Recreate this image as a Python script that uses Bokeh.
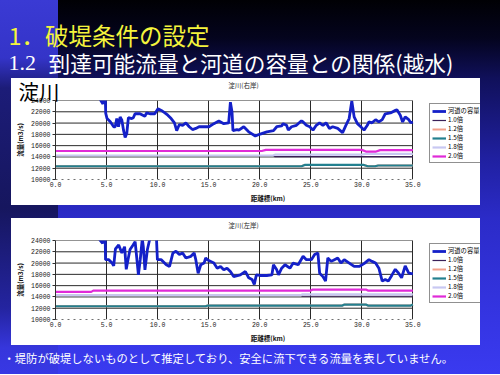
from bokeh.plotting import figure
from bokeh.layouts import column
from bokeh.models import Label, Legend, LegendItem, FixedTicker, PrintfTickFormatter, Range1d
from bokeh.embed import file_html
from bokeh.resources import INLINE

# ---------------- data ----------------
DIST_TICKS = [0, 5, 10, 15, 20, 25, 30, 35]
FLOW_TICKS = [10000, 12000, 14000, 16000, 18000, 20000, 22000, 24000]

SERIES_NAMES = ["河道の容量", "1.0倍", "1.2倍", "1.5倍", "1.8倍", "2.0倍"]

# 淀川(右岸) river channel capacity
R_X = [4.30, 4.65, 4.72, 4.86, 4.92, 5.05, 5.37, 5.70, 5.85, 6.00,
       6.17, 6.33, 6.50, 6.66, 6.82, 6.98, 7.14, 7.46, 7.62, 7.79,
       8.27, 8.75, 8.92, 9.24, 9.72, 10.04, 10.36, 10.68, 11.00, 11.33,
       11.65, 11.87, 12.13, 12.45, 12.77, 13.10, 13.42, 13.74, 14.06, 14.55,
       15.03, 15.51, 16.00, 16.48, 16.96, 17.13, 17.29, 17.38, 17.77, 17.96,
       18.44, 18.92, 19.57, 20.05, 20.70, 21.35, 21.67, 22.15, 22.30, 22.63,
       22.80, 23.12, 23.60, 24.09, 24.25, 24.57, 24.90, 25.22, 25.54, 25.86,
       26.19, 26.50, 26.83, 27.15, 27.64, 28.12, 28.44, 28.76, 29.02, 29.25,
       29.57, 29.90, 30.22, 30.54, 30.70, 31.00, 31.35, 31.67, 32.00, 32.30,
       32.80, 33.30, 33.44, 33.77, 34.00, 34.25, 34.60, 34.80, 35.00]
R_CAP = [24400, 23400, 25500, 25500, 21700, 20800, 20250, 19350, 19350, 20800,
         19350, 21100, 20500, 18750, 17450, 18150, 20950, 20800, 20950, 21650,
         21650, 21200, 21800, 21650, 21650, 22550, 22250, 21850, 21400, 20800,
         20050, 18650, 19750, 19600, 20050, 19350, 18850, 19050, 19350, 19350,
         19350, 19900, 20350, 19900, 20050, 23700, 21950, 18650, 18850, 18750,
         19350, 18450, 17700, 18050, 18450, 18650, 19350, 19500, 19900, 19600,
         18750, 19350, 19600, 20400, 20200, 19600, 19350, 18750, 19600, 20050,
         19600, 20050, 19050, 19350, 19050, 18300, 19600, 20800, 23900, 21100,
         19900, 19350, 18750, 19600, 20200, 20050, 20600, 20200, 20600, 21650,
         21800, 22250, 22350, 21400, 20200, 21100, 20600, 20050, 20200]

# 淀川(右岸) attainable discharge for each rainfall multiple
R_X_10 = [0, 21.3, 21.5, 35]
R_V_10 = [14250, 14250, 14050, 14050]
R_X_12 = [0, 24.1, 24.4, 30.2, 30.6, 31.3, 31.6, 35]
R_V_12 = [12350, 12350, 12580, 12580, 12350, 12350, 12480, 12480]
R_X_15 = [0, 24.1, 24.4, 30.2, 30.6, 31.3, 31.6, 35]
R_V_15 = [12350, 12350, 12580, 12580, 12350, 12350, 12480, 12480]
R_X_18 = [0, 21.3, 21.5, 30.0, 30.4, 35]
R_V_18 = [14250, 14250, 14400, 14400, 14550, 14550]
R_X_20 = [0, 20.2, 20.6, 30.0, 30.4, 31.4, 31.8, 35]
R_V_20 = [15050, 15050, 15250, 15250, 14950, 14950, 15200, 15200]

# 淀川(左岸) river channel capacity
L_X = [4.30, 4.62, 4.74, 4.86, 4.90, 5.22, 5.54, 5.70, 5.87, 6.19,
       6.50, 6.77, 6.93, 7.10, 7.30, 7.60, 7.80, 7.96, 8.12, 8.30,
       8.50, 8.60, 8.76, 9.00, 9.20, 9.30, 9.85, 9.98, 10.36, 10.85,
       11.17, 11.50, 11.80, 12.13, 12.45, 12.77, 13.26, 13.58, 13.74, 13.97,
       14.23, 14.55, 14.71, 14.87, 15.20, 15.51, 15.84, 16.16, 16.48, 16.80,
       17.13, 17.45, 18.10, 18.60, 18.92, 19.25, 19.47, 19.67, 20.05, 20.70,
       21.19, 21.35, 21.67, 21.84, 22.15, 22.48, 22.96, 23.28, 23.77, 24.25,
       24.57, 25.06, 25.38, 25.70, 25.87, 26.19, 26.45, 26.67, 27.00, 27.32,
       27.64, 27.96, 28.28, 28.77, 29.25, 29.74, 30.22, 30.70, 31.00, 31.35,
       31.67, 32.00, 32.30, 32.60, 32.96, 33.28, 33.60, 33.90, 34.25, 34.60,
       35.00]
L_CAP = [24200, 23500, 25500, 25500, 20600, 20600, 20000, 19500, 22500, 23200,
         21800, 22900, 18900, 20600, 22400, 23200, 23800, 20900, 17900, 20600,
         24300, 22900, 18800, 22400, 24000, 26000, 26000, 20600, 20600, 19700,
         19400, 21800, 22100, 21500, 21800, 20900, 21200, 21800, 20600, 18200,
         19700, 20000, 20900, 20600, 20300, 20000, 19100, 19400, 18800, 19100,
         18500, 17600, 17900, 18500, 17400, 17100, 16200, 17900, 17800, 17800,
         17900, 19700, 18800, 17900, 19100, 19700, 19100, 20000, 19700, 21200,
         20600, 20600, 21500, 21800, 18200, 17600, 16800, 20900, 20300, 20600,
         20900, 20000, 20600, 20000, 19400, 19400, 19900, 20600, 20300, 20000,
         19100, 16800, 17100, 16800, 17900, 18900, 18200, 17400, 19500, 18200,
         18100]

L_X_10 = [0, 24.0, 24.2, 35]
L_V_10 = [14300, 14300, 14120, 14120]
L_X_12 = [0, 14.7, 14.9, 28.1, 28.3, 30.4, 30.6, 34.8, 35]
L_V_12 = [12350, 12350, 12470, 12470, 12650, 12650, 12470, 12470, 12650]
L_X_15 = [0, 14.7, 14.9, 28.1, 28.3, 30.4, 30.6, 34.8, 35]
L_V_15 = [12350, 12350, 12470, 12470, 12650, 12650, 12470, 12470, 12650]
L_X_18 = [0, 24.0, 24.2, 35]
L_V_18 = [14300, 14300, 14450, 14450]
L_X_20 = [0, 3.5, 3.7, 25.0, 25.2, 30.4, 30.6, 35]
L_V_20 = [14900, 14900, 15120, 15120, 15300, 15300, 15120, 15120]

# ---------------- styling ----------------
JP = "Noto Sans CJK JP"
MONO = "Liberation Mono"
COLORS = ["#1420c8", "#3a2058", "#f2a08a", "#23808f", "#c8c8f2", "#e02ad8"]
WIDTHS = [2.8, 1.2, 2.0, 2.2, 2.2, 2.2]
PANEL_MARGIN = (0, 20, 0, 11)
WHITE = {"background": "white"}
CHART_W, CHART_H = 469, 109
BORDER_L, BORDER_T, BORDER_B = 38, 4, 25
PLOT_PX = 362.4                      # pixel width of the 0-35 km plot area
FRAME_W = CHART_W - BORDER_L          # frame also holds the legend on its right
X_END = DIST_TICKS[-1] * FRAME_W / PLOT_PX


def blank(w, h, fill=None, **kw):
    f = figure(width=w, height=h, x_range=Range1d(0, w), y_range=Range1d(h, 0),
               toolbar_location=None, output_backend="svg", title=None,
               x_axis_location=None, y_axis_location=None, min_border=0,
               frame_align=False, **kw)
    f.grid.visible = False
    f.outline_line_color = None
    if fill is None:
        f.background_fill_alpha = 0
        f.border_fill_alpha = 0
    else:
        f.background_fill_color = fill
        f.border_fill_color = fill
    return f


def chart(xs_list, ys_list):
    p = figure(width=CHART_W, height=CHART_H, x_range=Range1d(0, X_END),
               y_range=Range1d(FLOW_TICKS[0], FLOW_TICKS[-1]),
               toolbar_location=None, output_backend="svg", title=None,
               min_border_left=BORDER_L, min_border_right=0, min_border_top=BORDER_T,
               min_border_bottom=BORDER_B, margin=PANEL_MARGIN, styles=WHITE)
    p.border_fill_color = "white"
    p.background_fill_color = "white"
    p.outline_line_color = None

    p.xaxis.ticker = FixedTicker(ticks=DIST_TICKS)
    p.xaxis.formatter = PrintfTickFormatter(format="%.1f")
    p.xaxis.bounds = (DIST_TICKS[0], DIST_TICKS[-1])
    p.yaxis.ticker = FixedTicker(ticks=FLOW_TICKS)
    p.xgrid.ticker = FixedTicker(ticks=DIST_TICKS[1:])
    p.xgrid.grid_line_color = "#2a2a2a"
    p.ygrid.visible = False
    # horizontal grid lines limited to the 0-35 km plot area
    p.segment(x0=DIST_TICKS[0], x1=DIST_TICKS[-1], y0=FLOW_TICKS[1:], y1=FLOW_TICKS[1:],
              line_color="#2a2a2a", line_width=1, level="underlay")

    for ax in (p.xaxis[0], p.yaxis[0]):
        ax.major_label_text_font = MONO
        ax.major_label_text_font_size = "6.5px"
        ax.major_label_text_color = "#222222"
        ax.axis_label_text_font = JP
        ax.axis_label_text_font_size = "6.5px"
        ax.axis_label_text_font_style = "bold"
        ax.axis_label_text_color = "#111111"
        ax.minor_tick_line_color = None
        ax.major_label_standoff = 2
        ax.axis_label_standoff = 3
    p.xaxis.axis_label = "距離標(km)"
    p.yaxis.axis_label = "流量(m3/s)"
    p.xaxis.major_tick_out = 0
    p.xaxis.major_tick_in = 0
    p.xaxis.axis_line_color = "#707070"
    p.xaxis.axis_line_dash = "dotted"
    p.yaxis.major_tick_out = 3
    p.yaxis.major_tick_in = 0
    p.yaxis.axis_line_color = "#303030"
    p.yaxis.major_tick_line_color = "#303030"

    items = []
    for name, xs, ys, c, w in zip(SERIES_NAMES, xs_list, ys_list, COLORS, WIDTHS):
        r = p.line(xs, ys, line_color=c, line_width=w)
        items.append(LegendItem(label=name, renderers=[r]))

    leg = Legend(items=items, location=(374, 16))
    leg.label_text_font = JP
    leg.label_text_font_size = "6.3px"
    leg.label_text_color = "black"
    leg.glyph_width = 14
    leg.glyph_height = 8
    leg.label_height = 8
    leg.label_standoff = 2
    leg.spacing = 0
    leg.padding = 2
    leg.margin = 0
    leg.border_line_color = "#222222"
    leg.border_line_width = 1
    leg.background_fill_color = "white"
    leg.background_fill_alpha = 1
    p.add_layout(leg)
    return p


def top_strip(title, top=0):
    t = blank(CHART_W, 18, fill="white", margin=(top, 20, 0, 11), styles=WHITE)
    t.add_layout(Label(x=232, y=6.5, text=title, text_align="center", text_baseline="middle",
                       text_font=JP, text_font_size="6.5px", text_color="#222222"))
    return t


header = blank(500, 78)
header.add_layout(Label(x=8, y=34, text="1．破堤条件の設定", text_baseline="middle",
                        text_font=JP, text_font_size="23.5px", text_color="#f4f43c"))
header.add_layout(Label(x=8, y=62, text="1.2", text_baseline="middle",
                        text_font="Liberation Serif", text_font_size="22px", text_color="white"))
header.add_layout(Label(x=48, y=62, text="到達可能流量と河道の容量との関係(越水)", text_baseline="middle",
                        text_font=JP, text_font_size="21.7px", text_color="white"))

s1 = top_strip("淀川(右岸)")
c1 = chart([R_X, R_X_10, R_X_12, R_X_15, R_X_18, R_X_20],
           [R_CAP, R_V_10, R_V_12, R_V_15, R_V_18, R_V_20])
s2 = top_strip("淀川(左岸)", top=13)
c2 = chart([L_X, L_X_10, L_X_12, L_X_15, L_X_18, L_X_20],
           [L_CAP, L_V_10, L_V_12, L_V_15, L_V_18, L_V_20])

footer = blank(500, 29)
footer.add_layout(Label(x=3, y=12, text="・堤防が破堤しないものとして推定しており、安全に流下できる流量を表していません。",
                        text_baseline="middle", text_font=JP, text_font_size="11.3px", text_color="white"))

# big river name that overlaps the top-left corner of the first chart panel
yodo = blank(48, 32, styles={"position": "absolute", "left": "14px", "top": "74px", "z-index": "10"})
yodo.add_layout(Label(x=4, y=16, text="淀川", text_align="left", text_baseline="middle",
                      text_font=JP, text_font_size="20.5px", text_color="black"))

bg = ("linear-gradient(to bottom, #3a3ad4 0px, #3434c8 58px, #1c1c78 88px, #16165e 208px, "
      "#2424a0 308px, #3636dc 348px, #3838e4 100%) 0 0 / 58px 100% no-repeat, "
      "linear-gradient(to bottom, #000004 0px, #04041e 38px, #10105a 78px, #2020a0 158px, "
      "#2b2bc8 218px, #3434e0 308px, #3a3af0 100%)")

page = column(header, s1, c1, s2, c2, footer, yodo, spacing=0,
              styles={"background": bg, "position": "relative"})

open("out.html", "w").write(file_html(page, INLINE))
